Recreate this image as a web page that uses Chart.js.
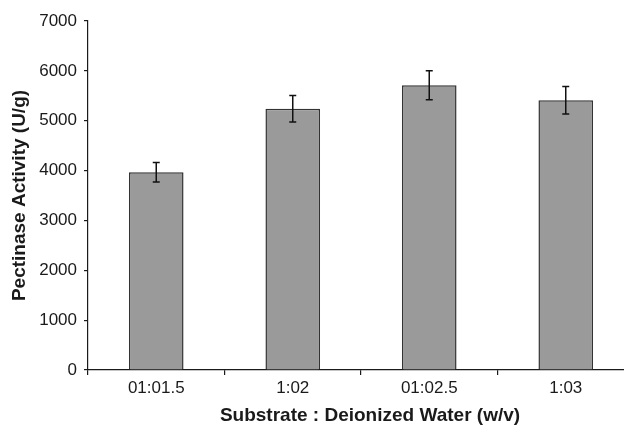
<!DOCTYPE html>
<html>
<head>
<meta charset="utf-8">
<script src="https://cdn.jsdelivr.net/npm/chart.js@4"></script>
<style>
    html, body { margin: 0; padding: 0; background: #fff; overflow: hidden; }
    #wrap { width: 640px; height: 425px; }
</style>
</head>
<body>
<div id="wrap"><canvas id="pectinaseChart" width="640" height="425"></canvas></div>
<script>
// Values
const ratios = ['01:01.5', '1:02', '01:02.5', '1:03'];
const activity = [3965, 5240, 5710, 5410];
const activityErr = [195, 265, 290, 275];
const yTicks = [0, 1000, 2000, 3000, 4000, 5000, 6000, 7000];
const xTitle = 'Substrate : Deionized Water (w/v)';

const FONT = "'Liberation Sans', Arial, sans-serif";
const INK = '#1a1a1a';

// Draws the vertical error bars with small caps on top of each bar
const errorBars = {
    id: 'errorBars',
    afterDatasetsDraw(chart) {
        const meta = chart.getDatasetMeta(0);
        const y = chart.scales.y;
        const ctx = chart.ctx;
        ctx.save();
        ctx.strokeStyle = '#111';
        ctx.lineWidth = 1.5;
        meta.data.forEach((bar, i) => {
            const top = y.getPixelForValue(activity[i] + activityErr[i]);
            const bottom = y.getPixelForValue(activity[i] - activityErr[i]);
            const cap = 3.5;
            ctx.beginPath();
            ctx.moveTo(bar.x, top);
            ctx.lineTo(bar.x, bottom);
            ctx.moveTo(bar.x - cap, top);
            ctx.lineTo(bar.x + cap, top);
            ctx.moveTo(bar.x - cap, bottom);
            ctx.lineTo(bar.x + cap, bottom);
            ctx.stroke();
        });
        ctx.restore();
    }
};

// x title sits a little right of the axis centre in the original, so draw it by hand
const xAxisTitle = {
    id: 'xAxisTitle',
    afterDraw(chart) {
        const x = chart.scales.x;
        const ctx = chart.ctx;
        ctx.save();
        ctx.font = 'bold 19px ' + FONT;
        ctx.fillStyle = INK;
        ctx.textAlign = 'center';
        ctx.textBaseline = 'middle';
        ctx.fillText(xTitle, (x.left + x.right) / 2 + 9, x.bottom - 9);
        ctx.restore();
    }
};

new Chart(document.getElementById('pectinaseChart'), {
    type: 'bar',
    data: {
        labels: ratios,
        datasets: [{
            data: activity,
            backgroundColor: '#9a9a9a',
            borderColor: '#333',
            borderWidth: 1.5,
            borderSkipped: 'bottom',
            categoryPercentage: 1,
            barPercentage: 0.4
        }]
    },
    options: {
        responsive: false,
        animation: false,
        events: [],
        layout: { padding: { top: 21, right: 6, left: 0, bottom: 0 } },
        plugins: {
            legend: { display: false },
            tooltip: { enabled: false }
        },
        scales: {
            x: {
                offset: true,
                border: { color: INK, width: 1.2 },
                grid: {
                    offset: true,
                    drawOnChartArea: false,
                    tickLength: 5,
                    color: INK,
                    lineWidth: 1.2
                },
                ticks: {
                    color: INK,
                    padding: 3,
                    maxRotation: 0,
                    font: { family: FONT, size: 17 }
                },
                afterFit(scale) { scale.height = 55; }
            },
            y: {
                min: 0,
                max: 7000,
                border: { color: INK, width: 1.2 },
                grid: {
                    drawOnChartArea: false,
                    tickLength: 4,
                    color: INK,
                    lineWidth: 1.2
                },
                afterBuildTicks(scale) {
                    scale.ticks = yTicks.map(v => ({ value: v }));
                },
                ticks: {
                    color: INK,
                    padding: 7,
                    callback: v => String(v),
                    font: { family: FONT, size: 17 }
                },
                title: {
                    display: true,
                    text: 'Pectinase Activity (U/g)',
                    color: INK,
                    padding: { top: 8, bottom: 8 },
                    font: { family: FONT, size: 19, weight: 'bold' }
                },
                afterFit(scale) { scale.width = 88; }
            }
        }
    },
    plugins: [errorBars, xAxisTitle]
});
</script>
</body>
</html>
